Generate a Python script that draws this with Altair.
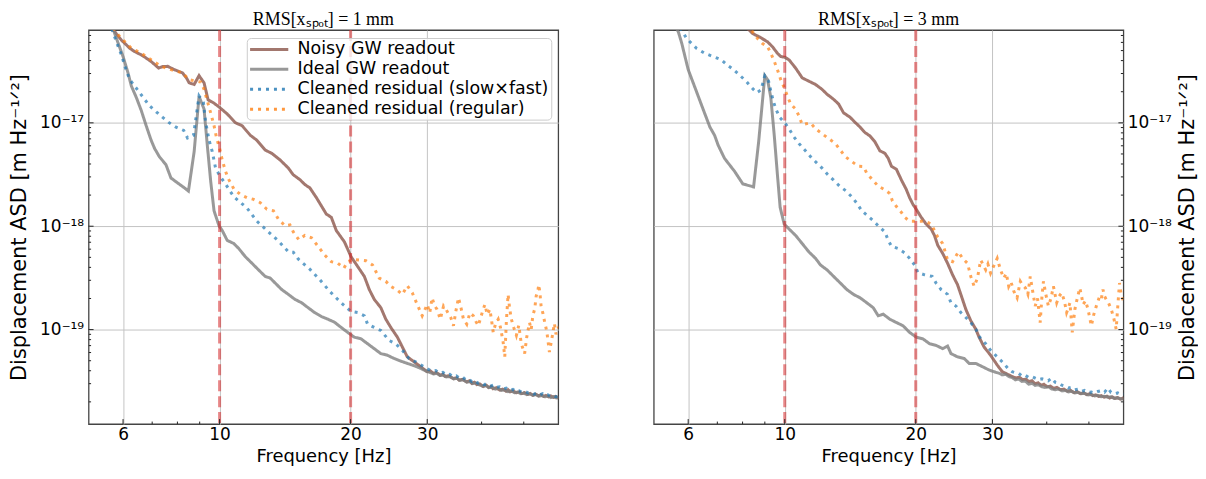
import altair as alt
import pandas as pd

PANEL_TITLES = ["RMS[xₛₚₒₜ] = 1 mm", "RMS[xₛₚₒₜ] = 3 mm"]
SERIES = ["Noisy GW readout", "Ideal GW readout",
          "Cleaned residual (slow×fast)", "Cleaned residual (regular)"]
COLORS = ["#8c564b", "#7f7f7f", "#1f77b4", "#ff7f0e"]
DASHES = [[1, 0], [1, 0], [3, 5], [3, 5]]
OPACITY = [0.8, 0.8, 0.7, 0.7]
X_TICKS = [6, 10, 20, 30]
X_MINOR = [7, 8, 9, 40, 50]
Y_TICKS = [1e-19, 1e-18, 1e-17]
Y_MINOR = [2e-20, 3e-20, 4e-20, 5e-20, 6e-20, 7e-20, 8e-20, 9e-20,
           2e-19, 3e-19, 4e-19, 5e-19, 6e-19, 7e-19, 8e-19, 9e-19,
           2e-18, 3e-18, 4e-18, 5e-18, 6e-18, 7e-18, 8e-18, 9e-18,
           2e-17, 3e-17, 4e-17, 5e-17, 6e-17, 7e-17]
VLINES = [10, 20]
X_DOMAIN = [5.0, 60.0]
Y_DOMAIN = [1.22e-20, 7.9e-17]
Y_TITLE = "Displacement ASD [m Hz⁻¹ᐟ²]"
X_TITLE = "Frequency [Hz]"

# ---------------- RMS = 1 mm ----------------
noisy_1mm = [
    (5.55, 9.3e-17), (5.65, 8.4e-17), (5.80, 7.2e-17), (5.95, 6.3e-17), (6.10, 5.7e-17),
    (6.22, 5.26e-17), (6.38, 4.89e-17), (6.61, 4.54e-17), (6.80, 4.2e-17), (6.96, 3.92e-17),
    (7.10, 3.65e-17), (7.24, 3.39e-17), (7.40, 3.5e-17), (7.60, 3.52e-17), (7.87, 3.27e-17),
    (8.05, 3.15e-17), (8.22, 3.04e-17), (8.40, 2.7e-17), (8.51, 2.44e-17), (8.74, 2.35e-17),
    (8.97, 2.86e-17), (9.21, 2.44e-17), (9.41, 1.67e-17), (9.71, 1.55e-17), (10.0, 1.41e-17),
    (10.41, 1.22e-17), (10.88, 1.0e-17), (11.26, 9.4e-18), (11.77, 7.57e-18), (12.18, 6.79e-18),
    (12.73, 5.45e-18), (13.18, 5.07e-18), (13.77, 4.38e-18), (14.39, 3.65e-18), (14.76, 3.15e-18),
    (15.30, 2.82e-18), (15.70, 2.53e-18), (16.12, 2.35e-18), (16.69, 1.89e-18), (17.59, 1.31e-18),
    (18.06, 1.22e-18), (18.54, 9.1e-19), (19.36, 7.05e-19), (20.05, 5.07e-19), (20.77, 4.07e-19),
    (21.51, 3.27e-19), (22.08, 2.44e-19), (22.67, 1.96e-19), (23.47, 1.63e-19), (24.10, 1.26e-19),
    (24.74, 1.05e-19), (25.62, 8.45e-20), (26.30, 6.79e-20), (27.00, 5.45e-20), (27.96, 4.89e-20),
    (28.96, 4.38e-20), (29.99, 3.92e-20), (30.5, 3.98e-20), (31.0, 3.78e-20), (31.5, 3.84e-20),
    (32.15, 3.62e-20), (32.6, 3.70e-20), (33.0, 3.52e-20), (33.6, 3.58e-20), (34.47, 3.36e-20),
    (35.0, 3.42e-20), (35.5, 3.25e-20), (36.2, 3.30e-20), (36.98, 3.12e-20), (37.5, 3.20e-20),
    (38.0, 3.02e-20), (38.5, 3.10e-20), (39.0, 2.94e-20), (39.6, 2.98e-20), (40.36, 2.82e-20),
    (41.0, 2.90e-20), (41.5, 2.76e-20), (42.0, 2.82e-20), (42.5, 2.68e-20), (43.2, 2.74e-20),
    (44.05, 2.60e-20), (44.7, 2.66e-20), (45.5, 2.54e-20), (46.0, 2.62e-20), (46.5, 2.50e-20),
    (47.2, 2.55e-20), (48.08, 2.45e-20), (48.8, 2.50e-20), (49.5, 2.40e-20), (50.2, 2.46e-20),
    (51.0, 2.36e-20), (51.7, 2.41e-20), (52.47, 2.32e-20), (53.2, 2.38e-20), (54.0, 2.29e-20),
    (54.7, 2.34e-20), (55.5, 2.26e-20), (56.2, 2.31e-20), (57.0, 2.24e-20), (57.7, 2.28e-20),
    (58.5, 2.21e-20), (59.2, 2.26e-20), (59.8, 2.20e-20), (60.5, 2.23e-20),
]
ideal_1mm = [
    (5.55, 9.5e-17), (5.69, 8.1e-17), (5.85, 5.86e-17), (6.00, 4.38e-17), (6.16, 3.04e-17),
    (6.27, 2.27e-17), (6.44, 1.75e-17), (6.61, 1.31e-17), (6.78, 9.4e-18), (6.96, 6.8e-18),
    (7.09, 5.65e-18), (7.27, 4.71e-18), (7.53, 3.93e-18), (7.73, 2.93e-18), (8.01, 2.62e-18),
    (8.30, 2.35e-18), (8.48, 2.19e-18), (8.74, 5.26e-18), (8.97, 1.8e-17), (9.21, 1.36e-17),
    (9.37, 6.08e-18), (9.54, 2.72e-18), (9.71, 1.41e-18), (9.97, 1.01e-18), (10.14, 9.1e-19),
    (10.41, 7.3e-19), (10.78, 6.8e-19), (11.07, 6.08e-19), (11.46, 5.07e-19), (11.87, 4.38e-19),
    (12.29, 3.78e-19), (12.73, 3.27e-19), (13.07, 3.15e-19), (13.42, 2.82e-19), (13.89, 2.44e-19),
    (14.39, 2.19e-19), (14.90, 1.96e-19), (15.43, 1.82e-19), (15.97, 1.63e-19), (16.54, 1.46e-19),
    (17.13, 1.34e-19), (17.74, 1.26e-19), (18.37, 1.18e-19), (19.02, 1.05e-19), (19.70, 9.4e-20),
    (20.40, 8.45e-20), (21.13, 8.15e-20), (21.88, 7.3e-20), (22.67, 6.54e-20), (23.47, 5.86e-20),
    (24.30, 5.65e-20), (25.17, 5.26e-20), (26.07, 4.96e-20), (27.00, 4.71e-20), (27.96, 4.48e-20),
    (28.96, 4.22e-20), (29.99, 3.92e-20), (30.5, 3.84e-20), (31.0, 3.72e-20), (31.5, 3.78e-20),
    (32.1, 3.60e-20), (32.6, 3.64e-20), (33.2, 3.48e-20), (33.8, 3.52e-20), (34.5, 3.34e-20),
    (35.1, 3.38e-20), (35.7, 3.22e-20), (36.3, 3.27e-20), (37.0, 3.10e-20), (37.6, 3.14e-20),
    (38.2, 3.00e-20), (38.8, 3.05e-20), (39.5, 2.92e-20), (40.2, 2.84e-20), (40.9, 2.88e-20),
    (41.6, 2.74e-20), (42.3, 2.78e-20), (43.0, 2.66e-20), (43.7, 2.70e-20), (44.5, 2.58e-20),
    (45.2, 2.62e-20), (46.0, 2.51e-20), (46.8, 2.56e-20), (47.6, 2.45e-20), (48.4, 2.49e-20),
    (49.2, 2.40e-20), (50.0, 2.44e-20), (50.8, 2.35e-20), (51.6, 2.39e-20), (52.5, 2.31e-20),
    (53.3, 2.35e-20), (54.2, 2.27e-20), (55.0, 2.31e-20), (55.9, 2.24e-20), (56.8, 2.28e-20),
    (57.7, 2.20e-20), (58.6, 2.25e-20), (59.5, 2.18e-20), (60.5, 2.21e-20),
]
slowfast_1mm = [
    (5.55, 9.5e-17), (5.65, 8.1e-17), (5.85, 5.45e-17), (5.95, 4.54e-17), (6.11, 3.15e-17),
    (6.22, 2.62e-17), (6.38, 2.27e-17), (6.55, 1.96e-17), (6.90, 1.46e-17), (7.15, 1.28e-17),
    (7.40, 1.13e-17), (7.64, 1.01e-17), (7.94, 9.1e-18), (8.27, 8.45e-18), (8.44, 7.14e-18),
    (8.71, 7.57e-18), (8.97, 1.82e-17), (9.18, 1.57e-17), (9.29, 1.01e-17), (9.46, 6.79e-18),
    (9.62, 5.26e-18), (9.79, 3.65e-18), (10.0, 3.1e-18), (10.28, 2.62e-18), (10.78, 1.93e-18),
    (11.56, 1.5e-18), (12.18, 1.12e-18), (12.84, 9.1e-19), (13.65, 7.2e-19), (14.39, 5.65e-19),
    (14.77, 5.6e-19), (15.16, 4.82e-19), (16.12, 3.84e-19), (16.99, 3.04e-19), (17.90, 2.35e-19),
    (19.02, 1.82e-19), (20.05, 1.5e-19), (20.77, 1.46e-19), (21.51, 1.36e-19), (21.88, 1.13e-19),
    (22.67, 1.05e-19), (23.47, 9.8e-20), (24.52, 7.85e-20), (25.39, 7.3e-20), (26.30, 6.31e-20),
    (27.24, 5.26e-20), (28.2, 4.89e-20), (29.46, 4.38e-20), (30.2, 4.12e-20), (30.8, 3.95e-20),
    (31.4, 4.02e-20), (32.0, 3.80e-20), (32.6, 3.86e-20), (33.2, 3.66e-20), (33.8, 3.70e-20),
    (34.4, 3.50e-20), (35.0, 3.56e-20), (35.6, 3.38e-20), (36.2, 3.46e-20), (36.8, 3.26e-20),
    (37.4, 3.30e-20), (38.0, 3.14e-20), (38.6, 3.22e-20), (39.2, 3.04e-20), (39.8, 3.10e-20),
    (40.5, 2.94e-20), (41.2, 2.98e-20), (41.9, 2.84e-20), (42.6, 2.92e-20), (43.3, 2.76e-20),
    (44.0, 2.80e-20), (44.8, 2.66e-20), (45.6, 2.72e-20), (46.4, 2.60e-20), (47.2, 2.64e-20),
    (48.0, 2.52e-20), (48.8, 2.56e-20), (49.6, 2.46e-20), (50.4, 2.52e-20), (51.2, 2.44e-20),
    (52.0, 2.48e-20), (52.8, 2.38e-20), (53.6, 2.42e-20), (54.4, 2.33e-20), (55.2, 2.40e-20),
    (56.0, 2.30e-20), (56.8, 2.34e-20), (57.6, 2.26e-20), (58.4, 2.30e-20), (59.2, 2.24e-20),
    (60.5, 2.27e-20),
]
regular_1mm = [
    (5.55, 9.5e-17), (5.70, 8.2e-17), (5.90, 6.79e-17), (6.27, 5.26e-17), (6.61, 4.71e-17),
    (6.96, 4.07e-17), (7.34, 3.52e-17), (7.73, 3.27e-17), (8.22, 3.04e-17), (8.51, 2.62e-17),
    (8.82, 2.53e-17), (9.05, 2.48e-17), (9.21, 2.11e-17), (9.37, 1.63e-17), (9.54, 1.25e-17),
    (9.71, 9.4e-18), (9.83, 7.3e-18), (10.0, 5.65e-18), (10.14, 4.38e-18), (10.32, 3.39e-18),
    (10.50, 2.82e-18), (10.78, 2.3e-18), (11.16, 2.03e-18), (11.56, 1.89e-18), (11.97, 1.82e-18),
    (12.40, 1.69e-18), (12.84, 1.46e-18), (13.30, 1.41e-18), (13.65, 1.17e-18), (14.14, 1.01e-18),
    (14.51, 1.03e-18), (14.77, 8.8e-19), (15.21, 7.4e-19), (15.70, 8.15e-19), (16.26, 7.74e-19),
    (16.99, 6.08e-19), (17.44, 5.26e-19), (18.06, 4.54e-19), (18.70, 4.38e-19), (19.30, 3.93e-19),
    (19.70, 4.54e-19), (20.33, 4.77e-19), (21.06, 4.71e-19), (21.70, 4.64e-19), (22.47, 4.22e-19),
    (23.27, 3.15e-19), (24.10, 2.93e-19), (24.74, 2.62e-19), (25.62, 2.4e-19), (26.30, 2.19e-19),
    (27.00, 2.66e-19), (27.72, 2.27e-19), (28.45, 1.75e-19), (29.21, 1.36e-19), (30.0, 1.75e-19),
    (30.4, 1.45e-19), (30.78, 2.03e-19), (31.2, 1.7e-19), (31.6, 1.57e-19), (32.15, 1.26e-19),
    (32.71, 1.69e-19), (33.2, 1.55e-19), (33.6, 1.41e-19), (34.0, 1.3e-19), (34.47, 1.09e-19),
    (34.9, 1.5e-19), (35.4, 2.03e-19), (35.9, 1.6e-19), (36.34, 1.26e-19), (36.98, 1.13e-19),
    (37.6, 1.45e-19), (38.3, 1.36e-19), (38.8, 1.2e-19), (39.31, 1.09e-19), (39.9, 1.35e-19),
    (40.3, 1.55e-19), (40.72, 1.75e-19), (41.2, 1.4e-19), (41.8, 1.57e-19), (42.2, 1.2e-19),
    (42.54, 9.4e-20), (43.1, 1.15e-19), (43.67, 1.26e-19), (44.2, 1.05e-19), (44.83, 7.57e-20),
    (45.22, 5.45e-20), (45.6, 1.2e-19), (46.02, 2.19e-19), (46.4, 1.6e-19), (46.83, 1.26e-19),
    (47.4, 1.05e-19), (48.08, 8.8e-20), (48.7, 1.1e-19), (49.35, 7.3e-20), (50.23, 5.86e-20),
    (50.8, 8.5e-20), (51.55, 1.17e-19), (52.0, 1.0e-19), (52.46, 1.36e-19), (53.0, 1.6e-19),
    (53.39, 2.11e-19), (53.8, 2.3e-19), (54.14, 2.72e-19), (54.5, 2.2e-19), (54.8, 1.69e-19),
    (55.3, 1.45e-19), (55.77, 1.22e-19), (56.5, 9.5e-20), (57.26, 6.08e-20), (57.8, 7.5e-20),
    (58.27, 9.1e-20), (58.8, 1.15e-19), (59.3, 9e-20), (59.83, 1.01e-19), (60.5, 1.1e-19),
]

# ---------------- RMS = 3 mm ----------------
noisy_3mm = [
    (8.0, 9.5e-17), (8.22, 8.15e-17), (8.44, 7.3e-17), (8.74, 6.79e-17), (9.13, 6.08e-17),
    (9.37, 5.45e-17), (9.62, 4.71e-17), (9.79, 4.38e-17), (10.0, 4.31e-17), (10.23, 4.07e-17),
    (10.59, 3.39e-17), (10.97, 2.72e-17), (11.36, 2.53e-17), (11.77, 2.35e-17), (12.18, 2.11e-17),
    (12.51, 1.89e-17), (12.95, 1.69e-17), (13.30, 1.52e-17), (13.65, 1.25e-17), (14.14, 1.13e-17),
    (14.51, 1.01e-17), (14.90, 9.1e-18), (15.30, 8.03e-18), (15.70, 7.47e-18), (16.12, 6.54e-18),
    (16.54, 5.37e-18), (16.99, 5.07e-18), (17.29, 4.54e-18), (17.59, 3.8e-18), (18.06, 3.55e-18),
    (18.22, 3.27e-18), (18.54, 2.8e-18), (19.02, 2.27e-18), (19.36, 1.89e-18), (19.70, 1.63e-18),
    (20.05, 1.46e-18), (20.59, 1.22e-18), (21.13, 1.05e-18), (21.70, 9.4e-19), (22.08, 8.15e-19),
    (22.47, 6.54e-19), (23.07, 5.45e-19), (23.67, 4.38e-19), (24.30, 3.39e-19), (24.95, 2.72e-19),
    (25.39, 2.19e-19), (26.07, 1.57e-19), (26.76, 1.22e-19), (27.48, 1.01e-19), (27.96, 8.45e-20),
    (28.71, 6.79e-20), (29.72, 5.65e-20), (30.78, 4.54e-20), (31.60, 3.92e-20), (32.71, 3.65e-20),
    (33.4, 3.50e-20), (34.0, 3.40e-20), (34.6, 3.46e-20), (35.2, 3.28e-20), (35.8, 3.32e-20),
    (36.4, 3.14e-20), (37.0, 3.20e-20), (37.6, 3.00e-20), (38.2, 3.06e-20), (38.8, 2.90e-20),
    (39.4, 2.96e-20), (40.1, 2.80e-20), (40.8, 2.84e-20), (41.5, 2.70e-20), (42.2, 2.76e-20),
    (43.0, 2.62e-20), (43.8, 2.66e-20), (44.6, 2.54e-20), (45.4, 2.58e-20), (46.2, 2.46e-20),
    (47.0, 2.51e-20), (47.8, 2.40e-20), (48.6, 2.45e-20), (49.4, 2.35e-20), (50.2, 2.40e-20),
    (51.0, 2.30e-20), (51.8, 2.34e-20), (52.6, 2.26e-20), (53.4, 2.30e-20), (54.2, 2.22e-20),
    (55.0, 2.27e-20), (55.8, 2.18e-20), (56.6, 2.23e-20), (57.4, 2.16e-20), (58.2, 2.20e-20),
    (59.0, 2.13e-20), (59.8, 2.17e-20), (60.5, 2.12e-20),
]
ideal_3mm = [
    (5.55, 9.5e-17), (5.70, 7.5e-17), (5.80, 5.86e-17), (6.00, 3.27e-17), (6.22, 2.19e-17),
    (6.49, 1.36e-17), (6.73, 9.1e-18), (6.90, 7.57e-18), (7.03, 6.08e-18), (7.27, 4.54e-18),
    (7.67, 3.39e-18), (8.01, 2.57e-18), (8.48, 2.4e-18), (8.71, 6.54e-18), (9.0, 2.86e-17),
    (9.13, 2.62e-17), (9.29, 1.75e-17), (9.46, 7.57e-18), (9.62, 3.15e-18), (9.76, 1.52e-18),
    (9.97, 1.05e-18), (10.23, 9.4e-19), (10.59, 8.15e-19), (10.97, 6.79e-19), (11.36, 5.65e-19),
    (11.77, 4.89e-19), (12.08, 4.22e-19), (12.51, 3.78e-19), (12.95, 3.27e-19), (13.42, 2.82e-19),
    (13.89, 2.44e-19), (14.39, 2.19e-19), (14.90, 2.03e-19), (15.43, 1.82e-19), (15.97, 1.63e-19),
    (16.40, 1.36e-19), (16.84, 1.41e-19), (17.44, 1.26e-19), (18.06, 1.17e-19), (18.70, 1.09e-19),
    (19.36, 9.4e-20), (20.05, 8.45e-20), (20.77, 8.15e-20), (21.51, 7.3e-20), (22.27, 7.04e-20),
    (23.07, 6.54e-20), (23.67, 6.93e-20), (24.10, 5.86e-20), (24.95, 5.45e-20), (25.84, 5.26e-20),
    (26.53, 4.71e-20), (27.48, 4.71e-20), (28.45, 4.38e-20), (29.47, 4.07e-20), (30.51, 3.87e-20),
    (31.1, 3.78e-20), (31.6, 3.65e-20), (32.2, 3.70e-20), (32.71, 3.52e-20), (33.3, 3.44e-20),
    (33.88, 3.27e-20), (34.5, 3.32e-20), (35.09, 3.15e-20), (35.7, 3.18e-20), (36.34, 2.97e-20),
    (37.0, 3.02e-20), (37.63, 2.89e-20), (38.3, 2.92e-20), (39.0, 2.80e-20), (39.65, 2.76e-20),
    (40.4, 2.80e-20), (41.1, 2.66e-20), (41.8, 2.62e-20), (42.6, 2.66e-20), (43.4, 2.55e-20),
    (44.1, 2.58e-20), (44.83, 2.50e-20), (45.6, 2.53e-20), (46.4, 2.44e-20), (47.2, 2.47e-20),
    (48.08, 2.40e-20), (48.9, 2.42e-20), (49.8, 2.33e-20), (50.7, 2.36e-20), (51.55, 2.28e-20),
    (52.4, 2.31e-20), (53.3, 2.24e-20), (54.2, 2.27e-20), (55.3, 2.22e-20), (56.2, 2.24e-20),
    (57.2, 2.16e-20), (58.2, 2.19e-20), (59.3, 2.13e-20), (60.5, 2.14e-20),
]
slowfast_3mm = [
    (5.6, 9.5e-17), (5.80, 7.85e-17), (5.95, 6.54e-17), (6.27, 5.26e-17), (6.55, 4.71e-17),
    (6.84, 4.38e-17), (7.15, 4.07e-17), (7.36, 3.65e-17), (7.63, 3.27e-17), (7.90, 2.86e-17),
    (8.15, 2.53e-17), (8.37, 2.22e-17), (8.62, 1.96e-17), (8.82, 2.08e-17), (9.0, 2.86e-17),
    (9.18, 2.53e-17), (9.29, 2.03e-17), (9.41, 1.63e-17), (9.54, 1.36e-17), (9.74, 1.13e-17),
    (10.0, 1.0e-17), (10.23, 8.77e-18), (10.50, 7.3e-18), (10.78, 6.31e-18), (11.12, 5.45e-18),
    (11.46, 4.71e-18), (11.80, 4.16e-18), (12.18, 3.65e-18), (12.56, 3.15e-18), (12.95, 2.79e-18),
    (13.37, 2.44e-18), (13.84, 2.19e-18), (14.26, 1.92e-18), (14.66, 1.66e-18), (15.03, 1.41e-18),
    (15.50, 1.26e-18), (15.97, 1.13e-18), (16.40, 1.01e-18), (16.99, 8.8e-19), (17.29, 7.3e-19),
    (17.59, 6.4e-19), (18.22, 6.08e-19), (18.86, 5.53e-19), (19.36, 4.89e-19), (19.88, 4.22e-19),
    (20.23, 3.56e-19), (20.95, 3.39e-19), (21.82, 3.27e-19), (22.27, 2.82e-19), (22.87, 2.44e-19),
    (23.67, 2.19e-19), (24.10, 1.82e-19), (24.74, 1.69e-19), (25.39, 1.46e-19), (26.07, 1.31e-19),
    (26.76, 1.17e-19), (27.48, 1.01e-19), (28.20, 8.15e-20), (28.96, 7.3e-20), (29.72, 6.31e-20),
    (30.78, 5.45e-20), (31.87, 4.71e-20), (32.6, 4.2e-20), (33.30, 3.92e-20), (33.9, 3.82e-20),
    (34.47, 3.78e-20), (35.1, 3.56e-20), (35.7, 3.62e-20), (36.34, 3.44e-20), (37.0, 3.50e-20),
    (37.63, 3.39e-20), (38.3, 3.28e-20), (39.0, 3.34e-20), (39.65, 3.27e-20), (40.3, 3.20e-20),
    (41.07, 3.39e-20), (41.8, 3.10e-20), (42.54, 3.04e-20), (43.3, 2.90e-20), (44.0, 2.84e-20),
    (44.83, 2.72e-20), (45.6, 2.76e-20), (46.4, 2.62e-20), (47.2, 2.66e-20), (48.08, 2.53e-20),
    (48.9, 2.58e-20), (49.8, 2.48e-20), (50.66, 2.49e-20), (51.5, 2.44e-20), (52.4, 2.52e-20),
    (53.39, 2.57e-20), (54.3, 2.48e-20), (55.30, 2.72e-20), (56.2, 2.46e-20), (57.2, 2.40e-20),
    (58.2, 2.44e-20), (59.3, 2.35e-20), (60.5, 2.38e-20),
]
regular_3mm = [
    (8.2, 9.0e-17), (8.44, 7.57e-17), (8.66, 6.54e-17), (8.89, 5.86e-17), (9.13, 5.45e-17),
    (9.29, 4.71e-17), (9.46, 3.93e-17), (9.62, 3.27e-17), (9.79, 2.62e-17), (9.97, 2.19e-17),
    (10.14, 1.82e-17), (10.32, 1.52e-17), (10.59, 1.36e-17), (10.78, 1.17e-17), (10.97, 9.6e-18),
    (11.46, 1.0e-17), (11.77, 8.77e-18), (12.18, 7.85e-18), (12.62, 7.04e-18), (13.07, 6.31e-18),
    (13.42, 5.45e-18), (13.77, 4.71e-18), (14.26, 4.22e-18), (14.77, 3.8e-18), (15.16, 3.78e-18),
    (15.43, 3.27e-18), (15.90, 2.82e-18), (16.40, 2.44e-18), (16.93, 2.27e-18), (17.44, 2.07e-18),
    (17.68, 1.75e-18), (18.06, 1.55e-18), (18.54, 1.36e-18), (18.86, 1.22e-18), (19.36, 1.12e-18),
    (20.23, 1.12e-18), (20.95, 1.12e-18), (21.70, 1.05e-18), (22.08, 9.1e-19), (22.47, 7.85e-19),
    (23.07, 6.79e-19), (23.67, 4.71e-19), (24.30, 4.54e-19), (25.07, 5.65e-19), (25.62, 4.89e-19),
    (26.30, 4.38e-19), (26.76, 3.27e-19), (27.24, 2.62e-19), (27.72, 3.15e-19), (28.20, 4.71e-19),
    (28.6, 4.2e-19), (28.96, 3.78e-19), (29.3, 4.3e-19), (29.72, 3.52e-19), (30.2, 4.1e-19),
    (30.78, 4.89e-19), (31.32, 3.78e-19), (31.87, 3.15e-19), (32.3, 3.5e-19), (32.71, 2.62e-19),
    (33.1, 2.9e-19), (33.60, 2.35e-19), (34.19, 2.03e-19), (34.78, 2.93e-19), (35.2, 2.7e-19),
    (35.72, 2.53e-19), (36.2, 2.2e-19), (36.66, 3.27e-19), (37.1, 2.4e-19), (37.63, 1.69e-19),
    (38.1, 2.0e-19), (38.63, 1.17e-19), (39.0, 2.1e-19), (39.31, 2.93e-19), (39.8, 2.2e-19),
    (40.35, 1.69e-19), (40.9, 2.0e-19), (41.44, 2.62e-19), (42.17, 1.82e-19), (42.7, 2.1e-19),
    (43.29, 2.27e-19), (43.9, 1.9e-19), (44.44, 1.46e-19), (44.8, 1.6e-19), (45.22, 1.82e-19),
    (45.78, 9.4e-20), (46.42, 1.57e-19), (47.0, 2.0e-19), (47.65, 2.53e-19), (48.1, 2.1e-19),
    (48.49, 1.75e-19), (49.1, 1.9e-19), (49.77, 1.57e-19), (50.2, 1.3e-19), (50.66, 1.09e-19),
    (51.3, 1.4e-19), (52.0, 1.69e-19), (52.5, 1.9e-19), (52.93, 2.11e-19), (53.4, 2.0e-19),
    (53.86, 2.44e-19), (54.3, 2.1e-19), (54.81, 1.96e-19), (55.5, 1.8e-19), (56.27, 1.57e-19),
    (57.0, 1.3e-19), (57.76, 1.01e-19), (58.2, 1.6e-19), (58.78, 2.82e-19), (59.3, 2.2e-19),
    (59.83, 1.96e-19), (60.5, 1.8e-19),
]

W, H = 472, 396
FONT = "DejaVu Sans"

xs = alt.Scale(type="log", domain=X_DOMAIN, nice=False)
ys = alt.Scale(type="log", domain=Y_DOMAIN, nice=False)
cs = alt.Scale(domain=SERIES, range=COLORS)
ds = alt.Scale(domain=SERIES, range=DASHES)

xaxis = alt.Axis(values=X_TICKS, format="d", grid=True, gridColor="#c4c4c4", gridWidth=1,
                 ticks=False, tickSize=0, domain=False, labelFontSize=17, labelPadding=3,
                 titleFontSize=18, titlePadding=5, labelFlush=False)


def yaxis(orient):
    kw = dict(values=Y_TICKS, orient=orient, grid=True, gridColor="#c4c4c4", gridWidth=1,
              ticks=False, tickSize=0, domain=False, labelFontSize=17, labelPadding=5,
              titleFontSize=21, titlePadding=10,
              labelExpr="datum.value < 5e-19 ? '10⁻¹⁹' : (datum.value < 5e-18 ? '10⁻¹⁸' : '10⁻¹⁷')")
    if orient == "right":
        kw["titleAngle"] = 270
        kw["titleBaseline"] = "top"
        kw["titlePadding"] = 5
        kw["labelPadding"] = 4
    return alt.Axis(**kw)


legend = alt.Legend(title=None, orient="none", legendX=159, legendY=8,
                    symbolType="M-2.4,0H2.4", symbolSize=256, symbolStrokeWidth=3,
                    symbolOffset=11, labelOffset=19, labelFontSize=17.5, labelFont=FONT,
                    labelLimit=400, rowPadding=2, padding=2, fillColor="rgba(255,255,255,0.8)",
                    strokeColor="#cccccc", cornerRadius=4, symbolOpacity=0.8, labelColor="black")


def panel(curves, title, orient, show_legend):
    yax = yaxis(orient)
    X = alt.X("f:Q", scale=xs, axis=xaxis, title=X_TITLE)
    Y = alt.Y("v:Q", scale=ys, axis=yax, title=Y_TITLE)
    leg = legend if show_legend else None
    layers = []
    for name, pts, op in zip(SERIES, curves, OPACITY):
        df = pd.DataFrame(pts, columns=["f", "v"])
        df["series"] = name
        layers.append(
            alt.Chart(df).mark_line(strokeWidth=3, opacity=op, clip=True, strokeCap="butt").encode(
                x=X, y=Y,
                color=alt.Color("series:N", scale=cs, legend=leg),
                strokeDash=alt.StrokeDash("series:N", scale=ds, legend=leg),
            )
        )
    layers.append(
        alt.Chart(pd.DataFrame({"f": VLINES})).mark_rule(
            color="#d62728", opacity=0.55, strokeWidth=3, strokeDash=[11, 5]
        ).encode(x=X)
    )
    # inward ticks
    layers.append(alt.Chart(pd.DataFrame({"f": X_TICKS})).mark_rule(color="#222", strokeWidth=1)
                  .encode(x=X, y=alt.value(H - 5), y2=alt.value(H)))
    layers.append(alt.Chart(pd.DataFrame({"f": X_MINOR})).mark_rule(color="#222", strokeWidth=1)
                  .encode(x=X, y=alt.value(H - 2.5), y2=alt.value(H)))
    if orient == "left":
        x0, x1, x2 = 0, 5, 2.5
    else:
        x0, x1, x2 = W, W - 5, W - 2.5
    layers.append(alt.Chart(pd.DataFrame({"v": Y_TICKS})).mark_rule(color="#222", strokeWidth=1)
                  .encode(y=Y, x=alt.value(x0), x2=alt.value(x1)))
    layers.append(alt.Chart(pd.DataFrame({"v": Y_MINOR})).mark_rule(color="#222", strokeWidth=1, clip=True)
                  .encode(y=Y, x=alt.value(x0), x2=alt.value(x2)))
    return alt.layer(*layers).properties(
        width=W, height=H,
        title=alt.TitleParams(title, font="Liberation Serif", fontSize=18, fontWeight="normal",
                              offset=0, anchor="middle", color="black"),
    )


left = panel([noisy_1mm, ideal_1mm, slowfast_1mm, regular_1mm], PANEL_TITLES[0], "left", True)
right = panel([noisy_3mm, ideal_3mm, slowfast_3mm, regular_3mm], PANEL_TITLES[1], "right", False)

chart = (
    alt.hconcat(left, right, spacing=94)
    .resolve_scale(color="independent", strokeDash="independent")
    .resolve_legend(color="independent", strokeDash="independent")
    .configure_view(stroke="#444444", strokeWidth=1.3)
    .configure_axis(labelFont=FONT, titleFont=FONT, labelColor="black", titleColor="black",
                    titleFontWeight="normal")
    .properties(padding=0, background="white")
)

chart.save("out.html", embed_options={"renderer": "svg", "actions": False})
